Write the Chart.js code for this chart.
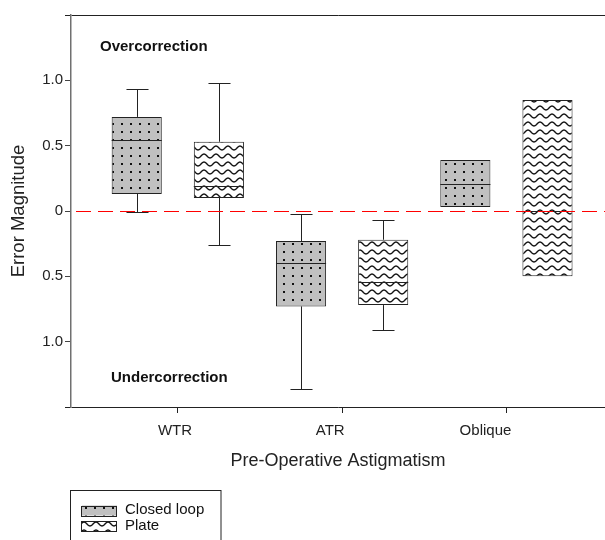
<!DOCTYPE html>
<html>
<head>
<meta charset="utf-8">
<title>Error Magnitude by Pre-Operative Astigmatism</title>
<script src="https://cdn.jsdelivr.net/npm/chart.js@4.4.1/dist/chart.umd.min.js"></script>
<style>
  html, body { margin: 0; padding: 0; background: #fff; overflow: hidden; }
  canvas { display: block; }
</style>
</head>
<body>
<canvas id="box-chart" width="605" height="540"></canvas>
<script>
// Data
// ------------------------------
const categories = ['WTR', 'ATR', 'Oblique'];

// Closed loop
const closedMin    = [-0.01, -1.36, 0.03];
const closedQ1     = [0.13, -0.73, 0.03];
const closedMedian = [0.54, -0.40, 0.21];
const closedQ3     = [0.72, -0.23, 0.39];
const closedMax    = [0.93, -0.02, 0.39];

// Plate
const plateMin    = [-0.26, -0.91, -0.50];
const plateQ1     = [0.10, -0.72, -0.50];
const plateMedian = [0.19, -0.54, 0.00];
const plateQ3     = [0.53, -0.22, 0.85];
const plateMax    = [0.98, -0.07, 0.85];

// y axis (labels show magnitude only)
const yTickValues = [-1, -0.5, 0, 0.5, 1];
const yTickLabels = ['1.0', '0.5', '0', '0.5', '1.0'];

const FONT = "'Liberation Sans', Arial, sans-serif";
Chart.defaults.font.family = FONT;
Chart.defaults.color = '#222';

// Fill patterns
function dotPattern() {
    const tile = document.createElement('canvas');
    tile.width = 9; tile.height = 8;
    const g = tile.getContext('2d');
    g.fillStyle = '#c0c0c0';
    g.fillRect(0, 0, 9, 8);
    g.fillStyle = '#111';
    g.fillRect(4, 3, 2, 2);
    return g.createPattern(tile, 'repeat');
}

function wavePattern() {
    const tile = document.createElement('canvas');
    tile.width = 12; tile.height = 8;
    const g = tile.getContext('2d');
    g.fillStyle = '#fff';
    g.fillRect(0, 0, 12, 8);
    g.strokeStyle = '#111';
    g.lineWidth = 1.4;
    g.beginPath();
    for (let x = -1; x <= 13; x += 0.5) {
        const y = 4 - 2 * Math.cos(Math.PI * x / 6);
        if (x === -1) g.moveTo(x, y); else g.lineTo(x, y);
    }
    g.stroke();
    return g.createPattern(tile, 'repeat');
}

function boxes(q1, q3) {
    return categories.map((c, i) => ({ x: i + 1, y: [q1[i], q3[i]] }));
}

const crisp = v => Math.round(v) + 0.5;

// whiskers, medians and the zero line
const boxWhiskers = {
    id: 'boxWhiskers',
    afterDatasetsDraw(chart) {
        const ctx = chart.ctx;
        const yScale = chart.scales.y;
        const area = chart.chartArea;
        ctx.save();
        ctx.strokeStyle = '#222';
        ctx.lineWidth = 1;
        chart.data.datasets.forEach((ds, di) => {
            chart.getDatasetMeta(di).data.forEach((bar, i) => {
                const { x, width } = bar.getProps(['x', 'width'], true);
                const half = width / 2, cap = width * 0.22;
                const pMed = crisp(yScale.getPixelForValue(ds.median[i]));
                const pQ1 = yScale.getPixelForValue(ds.data[i].y[0]);
                const pQ3 = yScale.getPixelForValue(ds.data[i].y[1]);
                const pMin = crisp(yScale.getPixelForValue(ds.whiskerLow[i]));
                const pMax = crisp(yScale.getPixelForValue(ds.whiskerHigh[i]));
                const cx = crisp(x);
                ctx.beginPath();
                ctx.moveTo(x - half, pMed); ctx.lineTo(x + half, pMed);
                if (ds.whiskerHigh[i] > ds.data[i].y[1]) {
                    ctx.moveTo(cx, pQ3); ctx.lineTo(cx, pMax);
                    ctx.moveTo(cx - cap, pMax); ctx.lineTo(cx + cap, pMax);
                }
                if (ds.whiskerLow[i] < ds.data[i].y[0]) {
                    ctx.moveTo(cx, pQ1); ctx.lineTo(cx, pMin);
                    ctx.moveTo(cx - cap, pMin); ctx.lineTo(cx + cap, pMin);
                }
                ctx.stroke();
            });
        });
        // zero reference line
        const zy = crisp(yScale.getPixelForValue(0));
        ctx.strokeStyle = '#ff0000';
        ctx.lineWidth = 1.2;
        ctx.setLineDash([15, 7]);
        ctx.lineDashOffset = 18;
        ctx.beginPath();
        ctx.moveTo(area.left + 1, zy);
        ctx.lineTo(area.right, zy);
        ctx.stroke();
        ctx.restore();
    }
};

// text notes and boxed legend
const sideNotes = {
    id: 'sideNotes',
    afterDraw(chart) {
        const ctx = chart.ctx;
        const yScale = chart.scales.y;
        const area = chart.chartArea;
        ctx.save();
        ctx.fillStyle = '#111';
        ctx.textAlign = 'left';
        ctx.textBaseline = 'middle';
        ctx.font = 'bold 15px ' + FONT;
        ctx.fillText('Overcorrection', area.left + 29, yScale.getPixelForValue(1.255));
        ctx.fillText('Undercorrection', area.left + 40, yScale.getPixelForValue(-1.278));

        // legend box (runs off the bottom edge, as in the original)
        ctx.strokeStyle = '#222';
        ctx.lineWidth = 1;
        ctx.strokeRect(70.5, 490.5, 150.5, 80);
        ctx.font = '15px ' + FONT;
        chart.data.datasets.forEach((ds, i) => {
            const sy = 505.5 + i * 15.5;
            ctx.fillStyle = ds.backgroundColor;
            ctx.fillRect(82, sy, 35, 10);
            ctx.strokeRect(81.5, Math.round(sy) + 0.5, 35, 10);
            ctx.fillStyle = '#111';
            ctx.fillText(ds.label, 125, sy + 4 + i);
        });
        ctx.restore();
    }
};

const ctx = document.getElementById('box-chart');

const config = {
    type: 'bar',
    data: {
        datasets: [{
            label: 'Closed loop',
            data: boxes(closedQ1, closedQ3),
            median: closedMedian,
            whiskerLow: closedMin,
            whiskerHigh: closedMax,
            backgroundColor: dotPattern(),
            borderColor: '#222',
            borderWidth: 1,
            borderSkipped: false
        }, {
            label: 'Plate',
            data: boxes(plateQ1, plateQ3),
            median: plateMedian,
            whiskerLow: plateMin,
            whiskerHigh: plateMax,
            backgroundColor: wavePattern(),
            borderColor: '#222',
            borderWidth: 1,
            borderSkipped: false
        }]
    },
    options: {
        responsive: false,
        animation: false,
        layout: { padding: { top: 15, right: 0, bottom: 65, left: 0 } },
        categoryPercentage: 1.0,
        barPercentage: 0.61,
        plugins: {
            legend: { display: false },
            tooltip: { enabled: false }
        },
        scales: {
            x: {
                type: 'linear',
                min: 0.35,
                max: 3.6,
                bounds: 'data',
                offset: false,
                weight: 0,
                afterBuildTicks: s => { s.ticks = categories.map((c, i) => ({ value: i + 1 })); },
                afterFit: s => { s.height = 8; },
                grid: { display: true, offset: false, drawOnChartArea: false, drawTicks: true, tickLength: 6, tickColor: '#222' },
                border: { display: false },
                ticks: { display: false }
            },
            x2: {
                type: 'linear',
                axis: 'x',
                position: 'bottom',
                min: 0.33,
                max: 3.77,
                bounds: 'data',
                offset: false,
                weight: 1,
                afterBuildTicks: s => { s.ticks = categories.map((c, i) => ({ value: i + 1 })); },
                afterFit: s => { s.height = 60; },
                grid: { display: false, offset: false, drawTicks: false },
                border: { display: false },
                ticks: {
                    autoSkip: false,
                    maxRotation: 0,
                    padding: 7,
                    font: { size: 15 },
                    color: '#222',
                    callback: v => categories[v - 1]
                },
                title: {
                    display: true,
                    text: 'Pre-Operative Astigmatism',
                    font: { size: 18 },
                    color: '#222',
                    padding: { top: 0, bottom: 3 }
                }
            },
            y: {
                type: 'linear',
                min: -1.5,
                max: 1.5,
                afterBuildTicks: s => { s.ticks = [-1.5].concat(yTickValues, [1.5]).map(v => ({ value: v })); },
                afterFit: s => { s.width = 71; },
                grid: {
                    drawOnChartArea: true,
                    drawTicks: true,
                    tickLength: 6,
                    lineWidth: 1,
                    color: c => (c.tick && Math.abs(c.tick.value) === 1.5) ? '#222' : 'rgba(0,0,0,0)',
                    tickColor: c => (c.tick && Math.abs(c.tick.value) === 1.5) ? '#222' : '#444'
                },
                border: { display: true, color: '#707070', width: 1.5 },
                ticks: {
                    padding: 2,
                    font: { size: 15 },
                    color: '#222',
                    callback: v => {
                        const k = yTickValues.indexOf(v);
                        return k < 0 ? '' : yTickLabels[k];
                    }
                },
                title: {
                    display: true,
                    text: 'Error Magnitude',
                    font: { size: 18.5 },
                    color: '#222',
                    padding: { top: 8, bottom: 0 }
                }
            }
        }
    },
    plugins: [boxWhiskers, sideNotes]
};

// Create the chart
const boxChart = new Chart(ctx, config);
</script>
</body>
</html>
